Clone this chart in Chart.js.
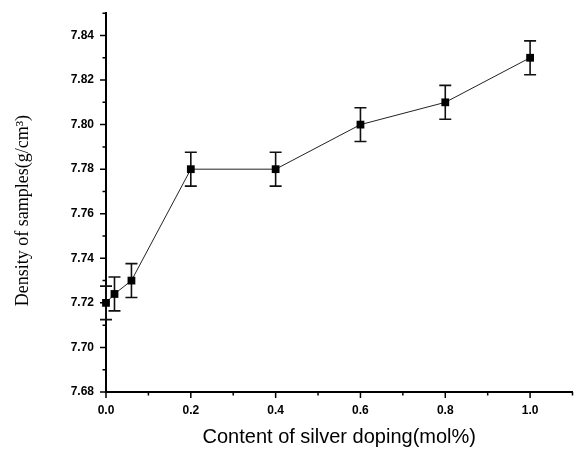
<!DOCTYPE html>
<html><head><meta charset="utf-8">
<script src="https://cdn.jsdelivr.net/npm/chart.js@4"></script>
<style>html,body{margin:0;padding:0;background:#fff}canvas{display:block}</style>
</head><body>
<canvas id="c" width="578" height="449"></canvas>
<script>
const dopingContent = [0, 0.02, 0.06, 0.2, 0.4, 0.6, 0.8, 1.0];
const density = [7.720, 7.724, 7.730, 7.780, 7.780, 7.800, 7.810, 7.830];
const densityError = [0.0075, 0.0076, 0.0076, 0.0076, 0.0076, 0.0076, 0.0076, 0.0076];
const xTickLabels = ['0.0', '0.2', '0.4', '0.6', '0.8', '1.0'];
const yTickLabels = ['7.68', '7.70', '7.72', '7.74', '7.76', '7.78', '7.80', '7.82', '7.84'];
const xTitle = 'Content of silver doping(mol%)';
const yTitle = 'Density of samples(g/cm\u00B3)';

function labelFor(list, value, digits) {
  const s = value.toFixed(digits);
  return list.includes(s) && Math.abs(parseFloat(s) - value) < 1e-6 ? s : '';
}

const errorBarPlugin = {
  id: 'errorBars',
  beforeDatasetsDraw(chart) {
    const ctx = chart.ctx, xs = chart.scales.x, ys = chart.scales.y;
    ctx.save();
    ctx.strokeStyle = '#111';
    ctx.lineWidth = 1.6;
    dopingContent.forEach((xv, i) => {
      const px = xs.getPixelForValue(xv);
      const pt = ys.getPixelForValue(density[i] + densityError[i]);
      const pb = ys.getPixelForValue(density[i] - densityError[i]);
      ctx.beginPath();
      ctx.moveTo(px, pt); ctx.lineTo(px, pb);
      ctx.moveTo(px - 6, pt); ctx.lineTo(px + 6, pt);
      ctx.moveTo(px - 6, pb); ctx.lineTo(px + 6, pb);
      ctx.stroke();
    });
    ctx.restore();
  }
};

const tickMarkPlugin = {
  id: 'tickMarks',
  afterDraw(chart) {
    const ctx = chart.ctx, xs = chart.scales.x, ys = chart.scales.y;
    const area = chart.chartArea;
    ctx.save();
    ctx.strokeStyle = '#000';
    ctx.lineWidth = 1.5;
    ctx.beginPath();
    xs.ticks.forEach(t => {
      const px = xs.getPixelForValue(t.value);
      const len = labelFor(xTickLabels, t.value, 1) ? 6 : 3.5;
      ctx.moveTo(px, area.bottom); ctx.lineTo(px, area.bottom + len);
    });
    ys.ticks.forEach(t => {
      const py = ys.getPixelForValue(t.value);
      const len = labelFor(yTickLabels, t.value, 2) ? 6 : 3.5;
      ctx.moveTo(area.left, py); ctx.lineTo(area.left - len, py);
    });
    ctx.stroke();
    // y axis title
    ctx.fillStyle = '#000';
    ctx.font = '18px "Liberation Serif", "Times New Roman", serif';
    ctx.textAlign = 'center';
    ctx.textBaseline = 'middle';
    ctx.translate(23, (area.top + area.bottom) / 2 + 8);
    ctx.rotate(-Math.PI / 2);
    ctx.fillText(yTitle, 0, 0);
    ctx.restore();
  }
};

new Chart(document.getElementById('c'), {
  type: 'line',
  data: {
    datasets: [{
      data: dopingContent.map((x, i) => ({x: x, y: density[i]})),
      borderColor: '#222',
      borderWidth: 1,
      backgroundColor: '#000',
      pointBackgroundColor: '#000',
      pointBorderColor: '#000',
      pointBorderWidth: 0,
      pointStyle: 'rect',
      pointRadius: 5.5,
      tension: 0,
      clip: false
    }]
  },
  plugins: [errorBarPlugin, tickMarkPlugin],
  options: {
    responsive: false,
    animation: false,
    events: [],
    layout: {padding: {top: 13, right: 0, bottom: 0, left: 0}},
    plugins: {legend: {display: false}, tooltip: {enabled: false}},
    scales: {
      x: {
        type: 'linear',
        min: 0, max: 1.1,
        grid: {display: false, drawTicks: true, tickLength: 6},
        border: {display: true, color: '#000', width: 2},
        ticks: {
          stepSize: 0.1, autoSkip: false, maxRotation: 0, padding: 5,
          color: '#000',
          font: {family: 'Liberation Sans, Arial, sans-serif', size: 12, weight: 'bold'},
          callback: (v) => labelFor(xTickLabels, v, 1)
        },
        title: {
          display: true, text: xTitle, color: '#000',
          font: {family: 'Liberation Sans, Arial, sans-serif', size: 20},
          padding: {top: 0, bottom: 0}
        },
        afterFit: (s) => { s.height = 57; }
      },
      y: {
        type: 'linear',
        min: 7.68, max: 7.85,
        grid: {display: false, drawTicks: true, tickLength: 6},
        border: {display: true, color: '#000', width: 2},
        ticks: {
          stepSize: 0.01, autoSkip: false, padding: 6,
          color: '#000',
          font: {family: 'Liberation Sans, Arial, sans-serif', size: 12, weight: 'bold'},
          callback: (v) => labelFor(yTickLabels, v, 2)
        },
        title: {display: false},
        afterFit: (s) => { s.width = 106; }
      }
    }
  }
});
</script>
</body></html>
